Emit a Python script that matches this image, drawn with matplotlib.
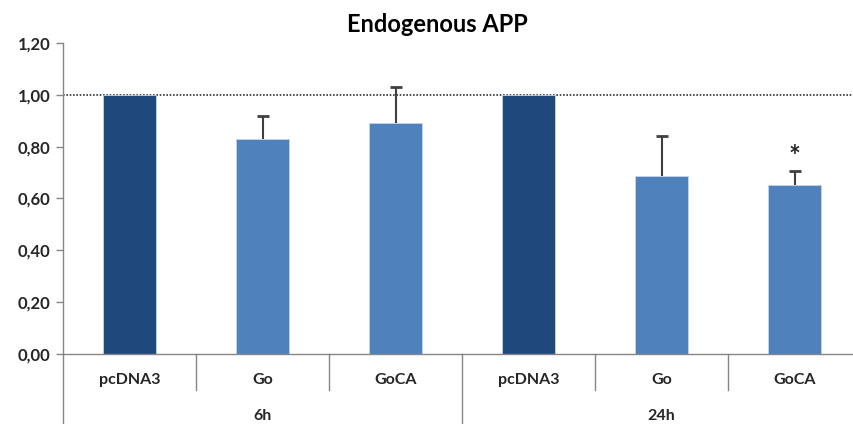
import numpy as np
import matplotlib.pyplot as plt
from matplotlib.ticker import FuncFormatter, MultipleLocator
from matplotlib.transforms import blended_transform_factory

# data
conditions = ["pcDNA3", "Go", "GoCA", "pcDNA3", "Go", "GoCA"]
groups = ["6h", "24h"]
values = [1.00, 0.83, 0.892, 1.00, 0.687, 0.654]
err_up = [0.0, 0.089, 0.139, 0.0, 0.153, 0.051]
significant = [False, False, False, False, False, True]

dark = "#1F497D"
light = "#4F81BD"
colors = [dark, light, light, dark, light, light]

plt.rcParams['font.family'] = ['Lato', 'DejaVu Sans']
plt.rcParams['font.weight'] = 'bold'

fig = plt.figure(figsize=(8.54, 4.24), dpi=100)
ax = fig.add_axes([63 / 854, 70 / 424, 798 / 854, 311 / 424])

x = np.arange(len(values))
vals = np.array(values)
errs = np.array(err_up)
ax.bar(x, vals, width=0.4, color=colors, edgecolor="#C5D5EA", linewidth=0.6, zorder=2)

# upper-only error bars, skipped where there is no error
has_err = errs > 0
ax.vlines(x[has_err], vals[has_err], vals[has_err] + errs[has_err],
          color="#404040", linewidth=1.5, zorder=3)
ax.plot(x[has_err], vals[has_err] + errs[has_err], linestyle="none", marker="_",
        markersize=8, markeredgewidth=2, color="#404040", zorder=3)

for xi, v, e, s in zip(x, vals, errs, significant):
    if s:
        ax.text(xi, v + e + 0.005, "*", ha="center", va="bottom", fontsize=20,
                color="#262626")

ax.axhline(1.0, color="#333333", linestyle=(0, (1, 1)), linewidth=1.2, zorder=1)

ax.set_xlim(-0.5, len(values) - 0.5)
ax.set_ylim(0, 1.2)
ax.yaxis.set_major_locator(MultipleLocator(0.2))
ax.yaxis.set_major_formatter(FuncFormatter(lambda v, p: f"{v:.2f}".replace(".", ",")))
ax.tick_params(axis="y", length=5, width=1, color="#868686", labelsize=12,
               labelcolor="#262626", pad=4)
ax.set_xticks([])

for side in ["top", "right"]:
    ax.spines[side].set_visible(False)
for side in ["left", "bottom"]:
    ax.spines[side].set_color("#868686")
    ax.spines[side].set_linewidth(1.0)

trans = blended_transform_factory(ax.transData, ax.transAxes)
for xi, name in zip(x, conditions):
    ax.text(xi, -0.084, name, transform=trans, ha="center", va="center",
            fontsize=11.5, color="#262626")

n_per = len(conditions) // len(groups)
for gi, g in enumerate(groups):
    center = gi * n_per + (n_per - 1) / 2
    ax.text(center, -0.199, g, transform=trans, ha="center", va="center",
            fontsize=11.5, color="#262626")

for b in np.arange(-0.5, len(values), 1.0):
    long_line = (b + 0.5) % n_per == 0
    y_end = -0.26 if long_line else -0.116
    ax.plot([b, b], [0, y_end], transform=trans, color="#868686", linewidth=1.0,
            clip_on=False)

fig.text(437 / 854, 1 - 25 / 424, "Endogenous APP", ha="center", va="center",
         fontsize=17, fontweight="bold", color="#000000")

fig.savefig("out.png", dpi=100)
